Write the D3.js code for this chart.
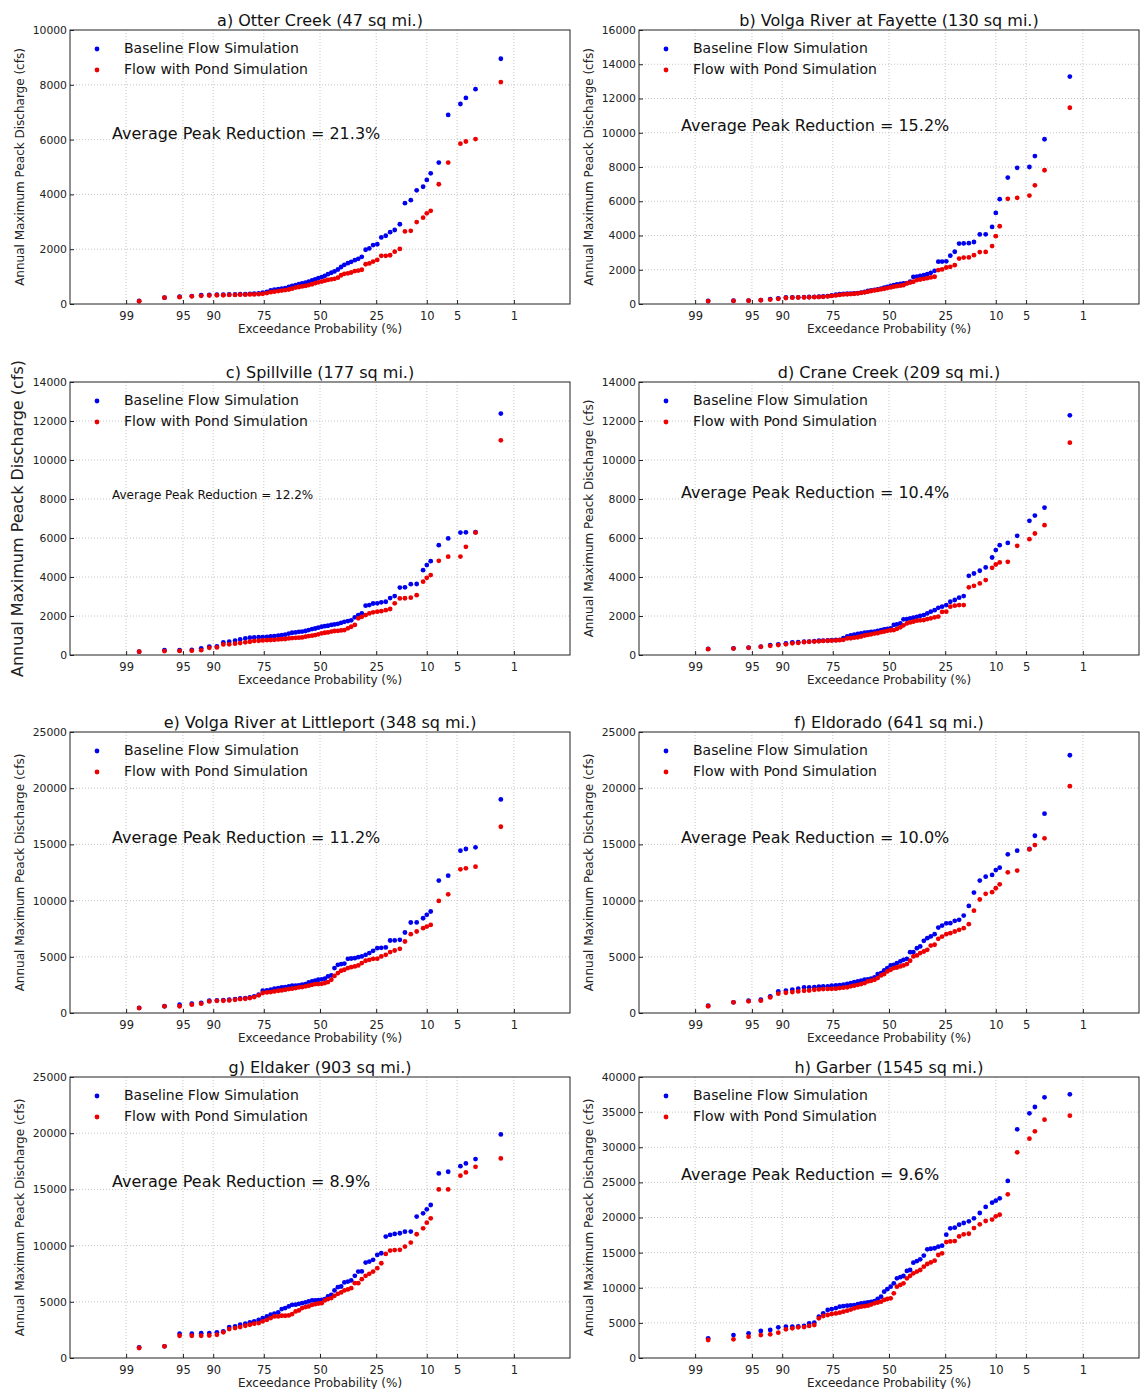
<!DOCTYPE html>
<html>
<head>
<meta charset="utf-8">
<script src="https://cdn.jsdelivr.net/npm/d3@7/dist/d3.min.js"></script>
<style>
  body { margin: 0; background: #fff; }
  svg { display: block; font-family: "DejaVu Sans", sans-serif; }
</style>
</head>
<body>
<div id="chart-container"></div>
<script>
// exceedance probability (%) of each ranked year, shared by all eight gauges
const exceedance = [98.5, 96.9, 95.4, 93.8, 92.3, 90.8, 89.2, 87.7, 86.2, 84.6,
  83.1, 81.5, 80.0, 78.5, 76.9, 75.4, 73.8, 72.3, 70.8, 69.2,
  67.7, 66.2, 64.6, 63.1, 61.5, 60.0, 58.5, 56.9, 55.4, 53.8,
  52.3, 50.8, 49.2, 47.7, 46.2, 44.6, 43.1, 41.5, 40.0, 38.5,
  36.9, 35.4, 33.8, 32.3, 30.8, 29.2, 27.7, 26.2, 24.6, 23.1,
  21.5, 20.0, 18.5, 16.9, 15.4, 13.8, 12.3, 10.8, 10.0, 9.2,
  7.7, 6.2, 4.6, 4.0, 3.1, 1.5];

const probTicks = [99, 95, 90, 75, 50, 25, 10, 5, 1];

const titles = ["a) Otter Creek (47 sq mi.)", "b) Volga River at Fayette (130 sq mi.)",
  "c) Spillville (177 sq mi.)", "d) Crane Creek (209 sq mi.)",
  "e) Volga River at Littleport (348 sq mi.)", "f) Eldorado  (641 sq mi.)",
  "g) Eldaker (903 sq mi.)", "h) Garber (1545 sq mi.)"];
const reductions = ["21.3%", "15.2%", "12.2%", "10.4%", "11.2%", "10.0%", "8.9%", "9.6%"];
const yMax = [10000, 16000, 14000, 14000, 25000, 25000, 25000, 40000];
const yStep = [2000, 2000, 2000, 2000, 5000, 5000, 5000, 5000];

const baselineA = [110,230,270,290,320,330,340,340,350,350, 360,360,370,380,390,410,440,500,520,540,
  560,580,620,660,690,720,750,780,820,860, 900,940,980,1030,1090,1140,1190,1260,1350,1430,
  1490,1540,1600,1650,1720,1980,2030,2150,2180,2430, 2490,2620,2700,2910,3680,3790,4150,4280,4530,4770,
  5160,6900,7300,7520,7840,8950];
const pondA = [100,230,250,280,300,310,320,320,330,330, 340,340,350,350,360,370,400,430,450,470,
  490,510,530,560,600,620,640,660,690,720, 760,790,820,850,880,900,920,960,1050,1100,
  1120,1150,1200,1220,1250,1450,1480,1550,1610,1760, 1760,1780,1910,2010,2650,2670,2990,3150,3310,3400,
  4370,5160,5850,5930,6020,8100];

const baselineB = [175,190,200,230,290,330,380,390,390,400, 410,420,430,440,460,500,540,570,590,600,
  610,620,640,660,700,760,790,820,850,900, 950,1000,1050,1100,1150,1180,1200,1220,1300,1580,
  1600,1640,1680,1750,1820,1940,2470,2480,2490,2820, 3050,3530,3540,3550,3620,4060,4070,4500,5320,6120,
  7380,7950,8000,8640,9620,13280];
const pondB = [170,180,190,220,260,300,350,370,380,385, 390,400,410,420,440,470,500,530,560,570,
  580,600,620,650,680,720,760,790,820,860, 890,930,970,1010,1040,1070,1100,1200,1250,1300,
  1400,1430,1470,1510,1550,1590,1980,2020,2130,2170, 2270,2650,2710,2720,2850,3030,3040,3380,3960,4540,
  6140,6200,6330,6930,7810,11460];

const baselineC = [170,250,250,260,340,430,440,640,680,730, 800,850,890,900,910,920,930,950,970,990,
  1020,1040,1100,1140,1160,1190,1200,1230,1280,1330, 1360,1400,1450,1480,1500,1540,1570,1600,1650,1700,
  1740,1780,1930,2050,2130,2530,2560,2640,2650,2700, 2730,2920,3020,3460,3470,3630,3640,4350,4610,4810,
  5630,5980,6280,6290,6300,12380];
const pondC = [170,200,210,220,250,370,390,540,550,580, 610,650,680,720,730,750,760,770,780,800,
  810,820,850,870,880,890,900,940,970,990, 1020,1060,1110,1140,1160,1200,1230,1240,1260,1280,
  1370,1450,1540,1880,1960,2050,2130,2190,2220,2250, 2300,2360,2650,2900,2910,2940,3070,3760,3960,4100,
  4830,5040,5050,5550,6280,11010];

const baselineD = [310,340,380,430,510,550,600,650,660,680, 690,710,730,740,750,760,770,780,870,950,
  1000,1040,1080,1110,1140,1160,1190,1200,1230,1280, 1310,1340,1370,1540,1570,1620,1830,1840,1880,1910,
  1960,2010,2050,2130,2220,2300,2420,2480,2560,2730, 2820,2940,3020,4060,4180,4320,4490,5000,5380,5630,
  5750,6110,6880,7150,7560,12290];
const pondD = [300,330,370,420,470,510,550,600,620,660, 680,690,700,720,730,740,750,760,780,850,
  860,890,910,950,1000,1030,1060,1100,1120,1170, 1200,1240,1270,1280,1340,1420,1520,1620,1670,1710,
  1760,1780,1790,1840,1880,1930,1970,2210,2220,2480, 2530,2560,2560,3470,3550,3670,3840,4470,4640,4750,
  4780,5600,5940,6230,6660,10890];

const baselineE = [450,600,740,830,890,1100,1120,1150,1180,1240, 1290,1330,1390,1480,1630,1980,2010,2070,2160,2220,
  2280,2310,2370,2430,2440,2460,2520,2570,2720,2810, 2870,2960,3000,3050,3250,3340,4000,4290,4350,4400,
  4820,4850,4880,4970,5030,5180,5330,5530,5770,5800, 5830,6450,6460,6510,7160,8050,8060,8430,8730,9030,
  11780,12220,14440,14590,14740,19000];
const pondE = [440,590,600,740,830,1030,1080,1090,1120,1180, 1240,1270,1330,1420,1570,1780,1830,1860,1920,1980,
  2010,2070,2130,2160,2220,2280,2310,2370,2430,2510, 2570,2570,2600,2660,2750,2960,3300,3550,3760,3850,
  4000,4080,4140,4230,4440,4650,4730,4820,4830,5030, 5180,5420,5560,5710,6360,7010,7250,7550,7690,7840,
  9970,10560,12780,12870,13020,16570];

const baselineF = [650,950,1100,1180,1480,1920,1990,2070,2160,2270, 2280,2300,2350,2360,2370,2440,2460,2480,2520,2600,
  2660,2750,2810,2870,2960,3000,3050,3170,3460,3550, 3800,4000,4230,4290,4440,4590,4730,4820,5410,5420,
  5770,5920,6420,6660,6810,7010,7600,7780,7980,7990, 8200,8290,8670,9530,10710,11780,12130,12280,12720,12930,
  14120,14440,14600,15770,17730,22930];
const pondF = [600,950,1040,1100,1390,1720,1800,1860,1920,1980, 2000,2070,2100,2130,2140,2150,2160,2220,2250,2280,
  2370,2430,2510,2570,2660,2810,2870,2960,3110,3340, 3460,3700,3850,4000,4050,4140,4230,4350,4650,5030,
  5120,5330,5470,5620,6000,6070,6600,6800,7010,7100, 7250,7400,7550,7900,9100,10100,10600,10750,11100,11450,
  12520,12670,14550,14940,15540,20180];

const baselineG = [950,1040,2160,2160,2200,2220,2280,2370,2750,2810, 2960,3050,3170,3260,3400,3550,3700,3850,3940,4050,
  4350,4440,4590,4730,4740,4820,4880,4940,5030,5120, 5120,5150,5180,5240,5470,5620,6010,6300,6360,6720,
  6800,6900,7310,7690,7700,8490,8580,8730,9170,9320, 10800,10950,11040,11100,11240,11250,12580,12870,13230,13610,
  16420,16570,17070,17310,17700,19890];
const pondG = [890,1040,1980,1980,1980,2000,2070,2280,2570,2660, 2750,2870,2960,3050,3110,3260,3400,3550,3700,3700,
  3760,3760,3790,3910,4140,4230,4440,4530,4590,4730, 4790,4850,4880,5120,5240,5330,5530,5710,5830,6010,
  6100,6210,6660,6660,7010,7310,7490,7690,7990,8430, 9260,9560,9600,9620,9910,10270,11010,11540,12040,12430,
  15000,15000,16220,16510,17010,17760];

const baselineH = [2800,3270,3510,3840,3990,4370,4460,4480,4500,4560, 4940,5030,5880,6360,6830,6970,7100,7300,7380,7450,
  7500,7540,7650,7780,7850,7920,8000,8110,8400,8730, 9440,9800,10150,10630,11340,11500,11670,12400,12530,13570,
  13800,14050,14580,15470,15550,15620,15850,15990,17550,18460, 18550,18980,19220,19460,19880,20640,21500,22110,22400,22730,
  25200,32550,34830,35730,37110,37540];
const pondH = [2560,2660,3040,3270,3370,3610,4080,4220,4370,4400, 4560,4700,5650,5980,6120,6260,6350,6450,6600,6740,
  6900,7070,7200,7300,7380,7450,7600,7780,7900,8020, 8260,8400,8500,9210,10150,10400,10630,11340,11700,12060,
  12300,12530,13000,13380,13600,13850,14660,14900,16500,16600, 16650,17300,17600,17690,18500,19030,19500,19700,20170,20400,
  23300,29280,31220,32270,33920,34490];

const baseline = [baselineA, baselineB, baselineC, baselineD, baselineE, baselineF, baselineG, baselineH];
const pond = [pondA, pondB, pondC, pondD, pondE, pondF, pondG, pondH];

// layout (pixels)
const colLeft = [70, 639];
const rowSpan = [[30, 304], [382, 655], [732, 1013], [1077, 1358]];
const plotW = 500;
const notePos = [0.38, 0.354, 0.414, 0.407, 0.38, 0.38, 0.377, 0.352];

// inverse standard normal CDF (Acklam)
function probit(p) {
  const a = [-39.69683028665376, 220.9460984245205, -275.9285104469687, 138.3577518672690, -30.66479806614716, 2.506628277459239];
  const b = [-54.47609879822406, 161.5858368580409, -155.6989798598866, 66.80131188771972, -13.28068155288572];
  const c = [-0.007784894002430293, -0.3223964580411365, -2.400758277161838, -2.549732539343734, 4.374664141464968, 2.938163982698783];
  const d = [0.007784695709041462, 0.3224671290700398, 2.445134137142996, 3.754408661907416];
  const pl = 0.02425;
  if (p < pl) {
    const q = Math.sqrt(-2 * Math.log(p));
    return (((((c[0]*q+c[1])*q+c[2])*q+c[3])*q+c[4])*q+c[5]) / ((((d[0]*q+d[1])*q+d[2])*q+d[3])*q+1);
  }
  if (p > 1 - pl) {
    const q = Math.sqrt(-2 * Math.log(1 - p));
    return -(((((c[0]*q+c[1])*q+c[2])*q+c[3])*q+c[4])*q+c[5]) / ((((d[0]*q+d[1])*q+d[2])*q+d[3])*q+1);
  }
  const q = p - 0.5, r = q * q;
  return (((((a[0]*r+a[1])*r+a[2])*r+a[3])*r+a[4])*r+a[5])*q / (((((b[0]*r+b[1])*r+b[2])*r+b[3])*r+b[4])*r+1);
}
const zOf = e => probit(1 - e / 100);
const zTicks = probTicks.map(zOf);

const svg = d3.select("#chart-container")
  .append("svg")
  .attr("width", 1141)
  .attr("height", 1389);

svg.append("rect").attr("width", 1141).attr("height", 1389).attr("fill", "#fff");

titles.forEach((title, i) => {
  const left = colLeft[i % 2];
  const [top, bottom] = rowSpan[Math.floor(i / 2)];
  const h = bottom - top;
  const g = svg.append("g").attr("transform", `translate(${left},${top})`);

  const x = d3.scaleLinear().domain([-3, 3]).range([0, plotW]);
  const y = d3.scaleLinear().domain([0, yMax[i]]).range([h, 0]);
  const yTicks = d3.range(0, yMax[i] + 1, yStep[i]);

  // dotted grid
  g.append("g").selectAll("line.gx").data(zTicks).enter().append("line")
    .attr("x1", d => x(d)).attr("x2", d => x(d)).attr("y1", 0).attr("y2", h)
    .attr("stroke", "#b8b8b8").attr("stroke-width", 0.8).attr("stroke-dasharray", "1,2");
  g.append("g").selectAll("line.gy").data(yTicks.slice(1, -1)).enter().append("line")
    .attr("x1", 0).attr("x2", plotW).attr("y1", d => y(d)).attr("y2", d => y(d))
    .attr("stroke", "#b8b8b8").attr("stroke-width", 0.8).attr("stroke-dasharray", "1,2");

  // axes
  const xAxis = g.append("g").attr("transform", `translate(0,${h})`)
    .call(d3.axisBottom(x).tickValues(zTicks)
      .tickFormat(z => probTicks[zTicks.indexOf(z)])
      .tickSizeInner(-4).tickSizeOuter(0).tickPadding(8));
  const yAxis = g.append("g")
    .call(d3.axisLeft(y).tickValues(yTicks).tickFormat(d3.format("d"))
      .tickSizeInner(-4).tickSizeOuter(0).tickPadding(3));
  [xAxis, yAxis].forEach(ax => {
    ax.select(".domain").remove();
    ax.selectAll("line").attr("stroke", "#222");
    ax.selectAll("text").attr("fill", "#222")
      .style("font-family", "DejaVu Sans, sans-serif");
  });
  xAxis.selectAll("text").style("font-size", "11.5px");
  yAxis.selectAll("text").style("font-size", "10.8px");

  // frame
  g.append("rect").attr("width", plotW).attr("height", h)
    .attr("fill", "none").attr("stroke", "#222").attr("stroke-width", 1);

  // points
  g.append("g").selectAll("circle").data(baseline[i]).enter().append("circle")
    .attr("cx", (d, k) => x(zOf(exceedance[k])))
    .attr("cy", d => y(d))
    .attr("r", 2.4)
    .style("fill", "#0000ee");
  g.append("g").selectAll("circle").data(pond[i]).enter().append("circle")
    .attr("cx", (d, k) => x(zOf(exceedance[k])))
    .attr("cy", d => y(d))
    .attr("r", 2.4)
    .style("fill", "#ee0000");

  // title and labels
  g.append("text").attr("x", plotW / 2).attr("y", -4)
    .attr("text-anchor", "middle").style("font-size", "16px").attr("fill", "#111")
    .text(title);
  g.append("text").attr("x", plotW / 2).attr("y", h + 29)
    .attr("text-anchor", "middle").style("font-size", "12px").attr("fill", "#222")
    .text("Exceedance Probability (%)");
  const big = i === 2;
  g.append("text")
    .attr("transform", `translate(${big ? -52 : -50},${h / 2}) rotate(-90)`)
    .attr("text-anchor", "middle").attr("dominant-baseline", "middle")
    .style("font-size", big ? "16px" : "12px").attr("fill", "#222")
    .text("Annual Maximum Peack Discharge (cfs)");

  // legend
  const legend = [["Baseline Flow Simulation", "#0000ee"], ["Flow with Pond Simulation", "#ee0000"]];
  legend.forEach(([label, color], k) => {
    g.append("circle").attr("cx", 27).attr("cy", 19 + k * 21).attr("r", 2.4).style("fill", color);
    g.append("text").attr("x", 54).attr("y", 19 + k * 21)
      .attr("dominant-baseline", "middle").style("font-size", "14px").attr("fill", "#111")
      .text(label);
  });

  // annotation
  g.append("text").attr("x", 42).attr("y", h * notePos[i])
    .attr("dominant-baseline", "middle")
    .style("font-size", big ? "12px" : "16px").attr("fill", "#111")
    .text("Average Peak Reduction = " + reductions[i]);
});
</script>
</body>
</html>
